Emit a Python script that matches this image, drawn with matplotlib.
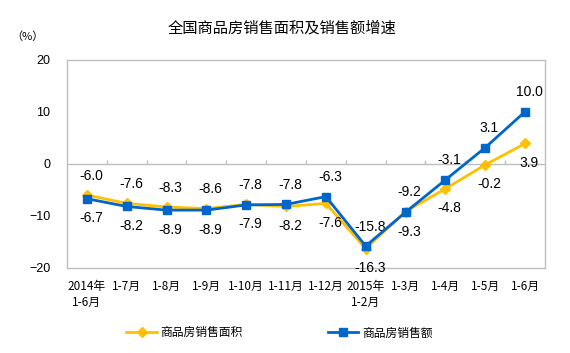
import numpy as np
import matplotlib
matplotlib.use('Agg')
import matplotlib.pyplot as plt

plt.rcParams['font.family'] = ['Liberation Sans', 'Noto Sans CJK SC', 'DejaVu Sans']

# data
months = ['2014年\n1-6月', '1-7月', '1-8月', '1-9月', '1-10月', '1-11月', '1-12月',
          '2015年\n1-2月', '1-3月', '1-4月', '1-5月', '1-6月']
area = [-6.0, -7.6, -8.3, -8.6, -7.8, -8.2, -7.6, -16.3, -9.2, -4.8, -0.2, 3.9]
amount = [-6.7, -8.2, -8.9, -8.9, -7.9, -7.8, -6.3, -15.8, -9.3, -3.1, 3.1, 10.0]
# which series gets its label above the point
area_above = [True, True, True, True, True, False, False, False, True, False, False, False]

yellow = '#FFC000'
blue = '#0066CC'
grey = '#BFBFBF'

fig = plt.figure(figsize=(5.7, 3.53), dpi=100)
ax = fig.add_axes([0.1175, 0.241, 0.8385, 0.590])

x = np.arange(len(months))
ax.plot(x, area, color=yellow, lw=2, marker='D', ms=5, label='商品房销售面积', zorder=3)
ax.plot(x, amount, color=blue, lw=2, marker='s', ms=6, label='商品房销售额', zorder=4)

# value labels
for i in x:
    a_up = area_above[i]
    ax.annotate(f'{area[i]:.1f}', (i, area[i]), xytext=(3, 9 if a_up else -9),
                textcoords='offset points', ha='center',
                va='bottom' if a_up else 'top', fontsize=10, color='black')
    ax.annotate(f'{amount[i]:.1f}', (i, amount[i]), xytext=(3, -9 if a_up else 9),
                textcoords='offset points', ha='center',
                va='top' if a_up else 'bottom', fontsize=10, color='black')

# zero line with small category ticks
ax.axhline(0, color=grey, lw=1, zorder=1)
ax.vlines(x[:-1] + 0.5, 0, 0.8, color=grey, lw=1, zorder=1)

ax.set_xlim(-0.5, len(months) - 0.5)
ax.set_ylim(-20, 20)
ax.set_yticks([-20, -10, 0, 10, 20])
ax.set_xticks(x)
ax.set_xticklabels(months, family=['Noto Sans CJK SC'], fontsize=8.5, linespacing=1.3)
ax.tick_params(axis='x', length=0, pad=9)
ax.tick_params(axis='y', length=0, pad=12, labelsize=9)
for s in ax.spines.values():
    s.set_color(grey)
    s.set_linewidth(1)

fig.text(0.495, 0.92, '全国商品房销售面积及销售额增速', ha='center', va='center',
         fontsize=11, family=['Noto Sans CJK SC'])
fig.text(0.048, 0.895, '（%）', ha='center', va='center', fontsize=8,
         family=['Noto Sans CJK SC'])

fig.legend(loc='center', bbox_to_anchor=(0.49, 0.057), ncol=2, frameon=False,
           prop={'family': 'Noto Sans CJK SC', 'size': 8.5}, handlelength=2.6,
           columnspacing=7.2, handletextpad=0.3)

fig.savefig('out.png', dpi=100)
